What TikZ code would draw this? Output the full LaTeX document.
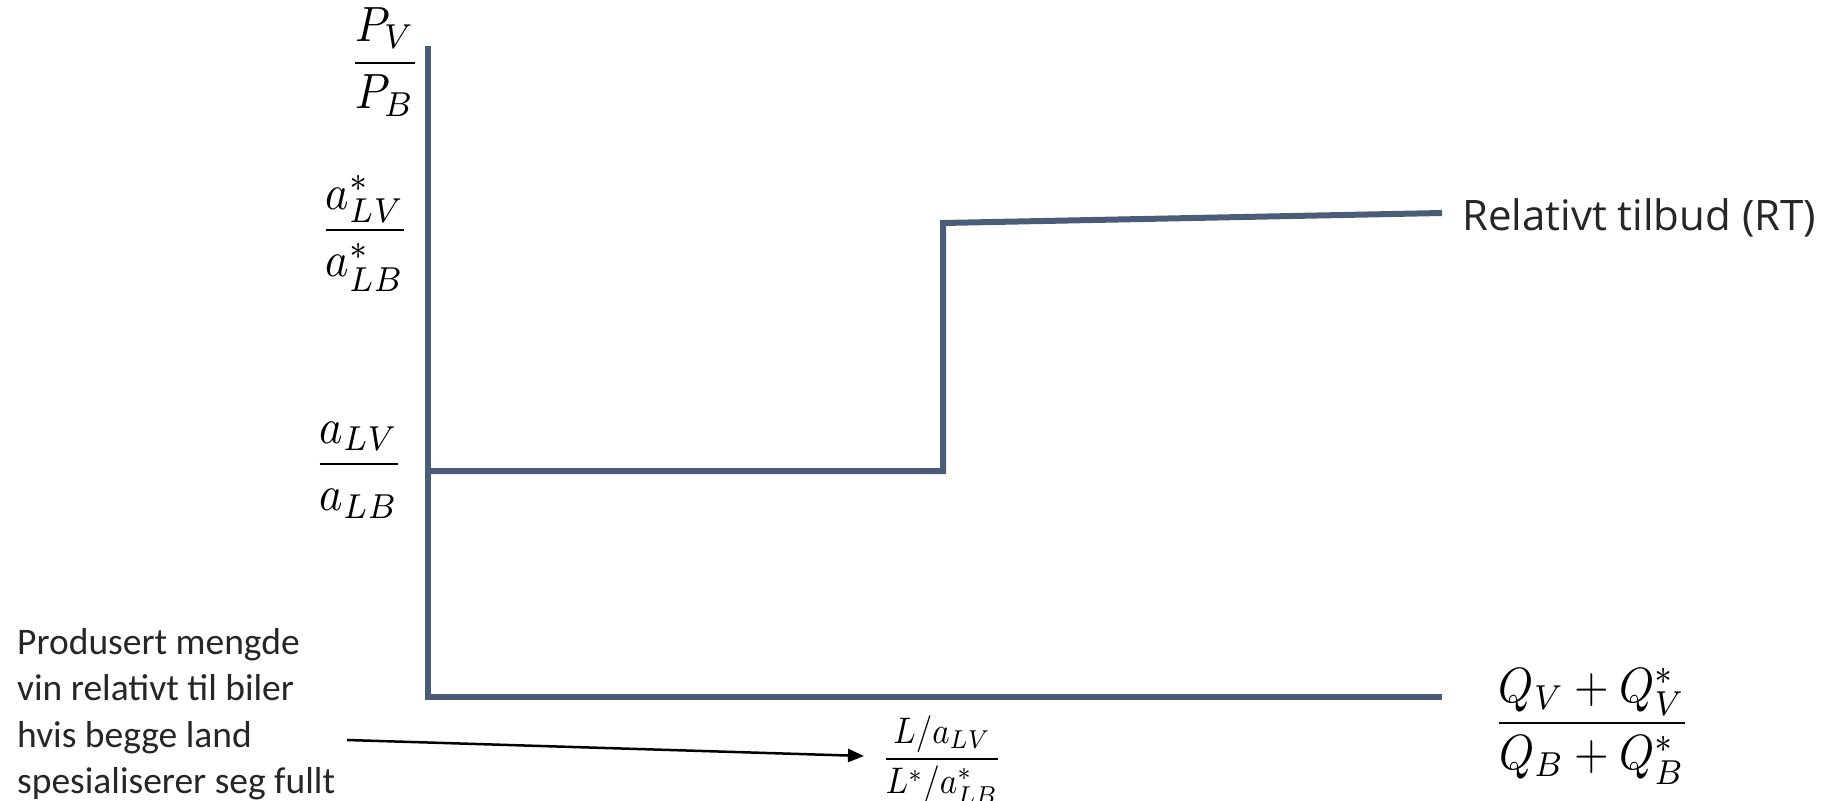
\documentclass[tikz,border=0pt]{standalone}
\usepackage{amsmath}
\usepackage{graphicx}
\usepackage{fontspec}
\newfontfamily\annfont{Carlito}
\newfontfamily\rtfont{Open Sans}
\usetikzlibrary{arrows.meta}
\definecolor{axiscol}{RGB}{74,93,120}
\definecolor{txtcol}{RGB}{38,38,38}
\newcommand{\myBigFrac}[2]{\scalebox{4.45}[4.95]{$\dfrac{#1}{#2}$}}
\newcommand{\mySmallFrac}[2]{\scalebox{3.3}[3.7]{$\dfrac{#1}{#2}$}}
\tikzset{
  axisline/.style={draw=axiscol, line width=6pt, line join=miter, line cap=butt},
  rtline/.style={draw=axiscol, line width=6pt, line join=miter, line cap=butt},
  mathlbl/.style={inner sep=0pt},
  annot/.style={inner sep=0pt, align=left, text=txtcol, font=\annfont\fontsize{37.5}{46.5}\selectfont},
  rtlabel/.style={inner sep=0pt, text=txtcol, font=\rtfont\fontsize{42}{48}\selectfont},
  pointer/.style={draw=black, line width=2.5pt, -{Triangle[length=16pt,width=13pt]}}
}
\begin{document}
\begin{tikzpicture}[x=1pt,y=-1pt]
\useasboundingbox (0,0) rectangle (1827,800);
% axes
\coordinate (ytop) at (428,46);
\coordinate (orig) at (428,697);
\coordinate (xend) at (1442,697);
\draw[axisline] (ytop) -- (orig) -- (xend);
% relative supply curve
\coordinate (rt0) at (428,471);
\coordinate (rt1) at (943,471);
\coordinate (rt2) at (943,223);
\coordinate (rt3) at (1442,213);
\draw[rtline] (rt0) -- (rt1) -- (rt2) -- (rt3);
% labels
\node[mathlbl] (pv) at (385,62) {\myBigFrac{P_V}{P_B}};
\node[mathlbl] (astar) at (365,233) {\myBigFrac{a^*_{LV}}{a^*_{LB}}};
\node[mathlbl] (a) at (359,470) {\myBigFrac{a_{LV}}{a_{LB}}};
\node[mathlbl] (q) at (1592,726) {\myBigFrac{Q_V+Q^*_V}{Q_B+Q^*_B}};
\node[mathlbl] (lf) at (942,760) {\mySmallFrac{L/a_{LV}}{L^*/a^*_{LB}}};
\node[rtlabel, anchor=west] (rt) at (1462,218) {Relativt tilbud (RT)};
\node[annot, anchor=north west] (ann) at (17,628) {Produsert mengde\\vin relativt til biler\\hvis begge land\\spesialiserer seg fullt};
% pointer
\coordinate (ptail) at (347,740);
\coordinate (ptip) at (864,756);
\draw[pointer] (ptail) -- (ptip);
\end{tikzpicture}
\end{document}
